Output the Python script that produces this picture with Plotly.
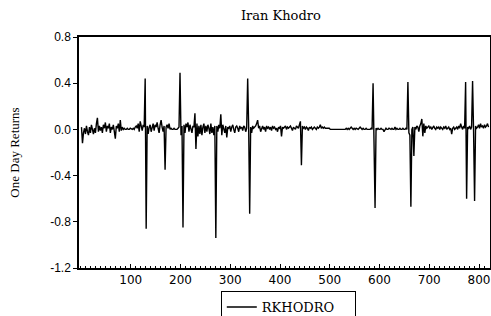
import plotly.graph_objects as go

title_text = "Iran Khodro"
series_name = "RKHODRO"
y_title = "One Day Returns"
y_ticks = [-1.2, -0.8, -0.4, 0.0, 0.4, 0.8]
x_ticks = [100, 200, 300, 400, 500, 600, 700, 800]

# observation index (every second trading day)
days = list(range(1, 821, 2))

# one-day returns
returns = [
    0.02, -0.12, -0.03, 0.01, -0.04, 0.03, -0.02, -0.05, 0.02, -0.03,
    0.04, -0.02, -0.04, 0.01, -0.03, 0.05, 0.10, -0.02, 0.03, -0.01,
    0.02, -0.03, 0.04, 0.01, 0.06, -0.02, 0.03, 0.01, 0.05, -0.03,
    0.02, 0.00, 0.04, -0.02, -0.08, 0.03, 0.01, 0.05, -0.02, 0.08,
    -0.01, 0.02, 0.00, 0.01, 0.00, 0.00, 0.01, 0.00, 0.00, 0.01,
    0.00, 0.00, 0.01, 0.00, 0.02, 0.03, 0.01, 0.05, -0.02, 0.07,
    0.03, -0.01, 0.04, 0.02, 0.44, -0.86, 0.03, -0.04, 0.02, 0.04,
    -0.02, 0.03, 0.05, -0.01, 0.04, 0.02, 0.06, 0.01, -0.03, 0.04,
    0.08, 0.02, -0.02, 0.03, -0.35, 0.02, 0.04, 0.01, 0.05, 0.00,
    0.01, 0.00, 0.00, 0.01, 0.00, 0.00, 0.00, 0.01, 0.02, 0.49,
    -0.05, 0.03, -0.85, 0.04, -0.03, 0.05, 0.02, 0.06, -0.02, 0.04,
    0.01, -0.03, 0.03, 0.02, 0.14, -0.17, 0.05, -0.06, 0.03, -0.04,
    0.04, -0.05, 0.02, 0.05, -0.03, 0.03, -0.02, 0.04, 0.01, -0.04,
    0.05, -0.03, 0.02, -0.05, 0.03, -0.94, 0.03, -0.02, 0.04, 0.01,
    0.13, -0.05, 0.04, 0.01, -0.03, 0.03, -0.07, 0.02, 0.01, 0.03,
    -0.02, 0.02, 0.04, 0.00, -0.03, 0.02, 0.03, 0.01, -0.02, 0.03,
    0.01, 0.02, -0.01, 0.03, 0.02, -0.02, 0.01, 0.44, 0.02, -0.73,
    0.02, -0.03, 0.03, 0.01, 0.02, 0.03, 0.05, 0.08, 0.01, 0.03,
    -0.02, 0.02, 0.03, 0.00, 0.02, -0.02, 0.03, 0.01, 0.02, 0.00,
    0.02, -0.01, 0.03, 0.01, 0.02, 0.00, 0.01, -0.02, 0.02, 0.01,
    0.03, -0.06, 0.02, 0.01, 0.02, 0.03, 0.00, 0.02, 0.01, 0.02,
    0.03, 0.01, -0.01, 0.02, 0.01, 0.00, 0.03, 0.02, 0.01, 0.04,
    0.07, -0.31, 0.03, 0.01, 0.02, 0.00, 0.02, 0.01, -0.01, 0.02,
    0.01, 0.02, 0.00, 0.01, 0.02, 0.01, 0.00, 0.02, 0.01, 0.02,
    0.04, 0.01, 0.02, 0.01, 0.02, 0.01, 0.01, 0.01, 0.01, 0.01,
    0.00, 0.00, 0.00, 0.00, 0.00, 0.00, 0.00, 0.00, 0.00, 0.00,
    0.00, 0.00, 0.00, 0.00, 0.00, 0.00, 0.01, 0.00, 0.01, 0.00,
    0.01, 0.02, 0.01, 0.00, 0.01, 0.00, 0.01, 0.00, 0.00, 0.01,
    0.02, 0.01, 0.00, 0.01, 0.00, 0.00, 0.01, 0.00, 0.00, 0.00,
    0.00, 0.01, 0.00, 0.40, -0.05, -0.68, 0.01, 0.00, 0.01, 0.00,
    0.00, 0.01, 0.00, 0.00, -0.02, 0.00, 0.01, 0.00, 0.00, 0.01,
    0.00, 0.00, 0.01, 0.00, 0.00, 0.02, 0.00, 0.01, 0.00, 0.00,
    0.01, 0.00, 0.00, 0.01, 0.00, 0.00, 0.01, 0.00, 0.41, -0.03,
    -0.05, -0.67, 0.00, 0.02, -0.23, 0.02, 0.00, 0.03, 0.02, -0.02,
    0.03, 0.05, 0.09, -0.06, 0.05, -0.03, 0.03, 0.01, 0.02, 0.03,
    0.01, 0.02, 0.00, 0.02, 0.03, 0.01, 0.00, 0.02, 0.01, 0.02,
    0.00, 0.02, 0.01, 0.00, 0.02, 0.01, 0.03, 0.00, 0.01, 0.02,
    0.00, 0.01, -0.04, 0.01, 0.02, 0.00, 0.01, 0.02, 0.00, 0.03,
    0.01, 0.05, 0.02, 0.00, 0.03, 0.01, 0.41, -0.60, 0.02, 0.01,
    0.03, 0.00, 0.02, 0.42, -0.02, -0.62, 0.03, 0.01, 0.02, 0.04,
    0.01, 0.05, 0.02, 0.03, 0.01, 0.04, 0.02, 0.03, 0.05, 0.02,
]

fig = go.Figure()
fig.add_trace(go.Scatter(
    x=days, y=returns, mode="lines", name=series_name,
    line=dict(color="black", width=1.4),
    showlegend=True,
))

fig.update_layout(
    width=491, height=316,
    margin=dict(l=79, r=1, t=37, b=48, autoexpand=False),
    paper_bgcolor="white", plot_bgcolor="white",
    title=dict(text=title_text, x=0.572, xanchor="center",
               y=1 - 15 / 316, yanchor="middle", yref="container",
               font=dict(family="DejaVu Serif", size=13, color="black")),
    showlegend=True,
    legend=dict(
        x=0.345, xanchor="left",
        y=(316 - 291) / 316, yanchor="top", yref="container",
        orientation="h",
        bordercolor="black", borderwidth=1, bgcolor="white",
        font=dict(family="DejaVu Serif", size=13, color="black"),
        itemwidth=30, tracegroupgap=0,
        entrywidth=88, entrywidthmode="pixels",
    ),
    xaxis=dict(
        range=[-4, 822], tickvals=x_ticks, ticktext=[str(v) for v in x_ticks],
        ticks="inside", ticklen=4, tickcolor="black",
        minor=dict(dtick=10, ticks="inside", ticklen=2, tickcolor="black"),
        showline=True, linecolor="black", linewidth=1.5, mirror=True,
        showgrid=False, zeroline=False, automargin=False,
        tickfont=dict(family="DejaVu Sans", size=12, color="black"),
    ),
    yaxis=dict(
        range=[-1.2, 0.8], tickvals=y_ticks, ticktext=[f"{v:.1f}" for v in y_ticks],
        ticks="outside", ticklen=4, tickcolor="black",
        showline=True, linecolor="black", linewidth=1.5, mirror=True,
        showgrid=False, zeroline=False, automargin=False,
        tickfont=dict(family="Liberation Sans", size=12, color="black"),
        title=dict(text=y_title, standoff=28,
                   font=dict(family="Liberation Serif", size=13, color="black")),
    ),
)

fig.write_html(
    "out.html",
    config={"displayModeBar": False},
    post_script="document.body.style.margin='0';document.body.style.overflow='hidden';",
)
